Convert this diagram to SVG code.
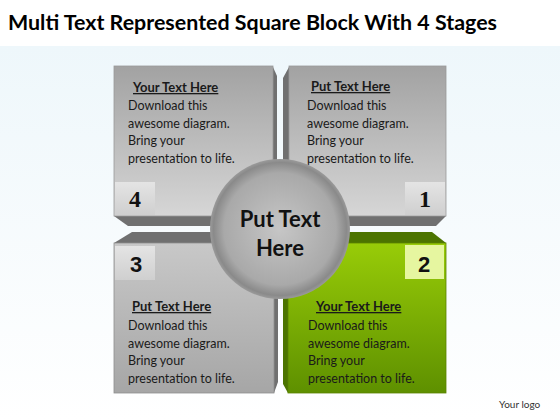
<svg xmlns="http://www.w3.org/2000/svg" width="560" height="420" viewBox="0 0 560 420">
<defs>
<style>
.title{font-family:Lato,"Open Sans",sans-serif;font-weight:700;font-size:20px;fill:#000}
.hd{font-family:Lato,"Open Sans",sans-serif;font-weight:700;font-size:13px;fill:#1a1a1a;text-decoration:underline}
.bd{font-family:Lato,"Open Sans",sans-serif;font-size:12.5px;fill:#1a1a1a}
.ctr{font-family:Lato,"Open Sans",sans-serif;font-weight:700;font-size:22px;fill:#111;text-anchor:middle}
.nser{font-family:"Liberation Serif",serif;font-weight:700;font-size:24px;fill:#111;text-anchor:middle}
.nsan{font-family:"Liberation Sans",sans-serif;font-weight:700;font-size:22px;fill:#111;text-anchor:middle}
.side{fill:#707070}
.gside{fill:#4c7400}
.logo{font-family:Lato,"Open Sans",sans-serif;font-size:10px;fill:#333}
</style>
<linearGradient id="bg" x1="0" y1="0" x2="0" y2="1">
<stop offset="0" stop-color="#eef7fb"/><stop offset="1" stop-color="#ffffff"/>
</linearGradient>
<linearGradient id="gray" x1="0" y1="0" x2="0" y2="1">
<stop offset="0" stop-color="#a2a2a2"/><stop offset="1" stop-color="#d6d6d6"/>
</linearGradient>
<linearGradient id="gray2" x1="0" y1="0" x2="0" y2="1">
<stop offset="0" stop-color="#c8c8c8"/><stop offset="1" stop-color="#a6a6a6"/>
</linearGradient>
<linearGradient id="green" x1="0" y1="0" x2="0" y2="1">
<stop offset="0" stop-color="#98cc08"/><stop offset="1" stop-color="#5e9000"/>
</linearGradient>
<linearGradient id="nbox" x1="0" y1="0" x2="0" y2="1">
<stop offset="0" stop-color="#e4e4e4"/><stop offset="1" stop-color="#cfcfcf"/>
</linearGradient>
<radialGradient id="ball" cx="0.5" cy="0.5" r="0.5">
<stop offset="0" stop-color="#c6c6c6"/><stop offset="0.8" stop-color="#a9a9a9"/><stop offset="0.95" stop-color="#8a8a8a"/><stop offset="1" stop-color="#9a9a9a"/>
</radialGradient>
</defs>
<rect x="0" y="0" width="560" height="420" fill="#fff"/>
<rect x="0" y="46" width="560" height="374" fill="url(#bg)"/>
<text class="title" x="8" y="30" textLength="489" lengthAdjust="spacingAndGlyphs">Multi Text Represented Square Block With 4 Stages</text>

<g id="stage4">
<polygon class="side" points="273,67 277,76 277,226 273,216"/>
<polygon class="side" points="114,216 128,226 277,226 273,216"/>
<rect x="114" y="66" width="159" height="150" fill="url(#gray)" stroke="#9a9a9a" stroke-width="0.8"/>
<rect x="115" y="182" width="40" height="33" fill="url(#nbox)"/>
<text class="nser" x="135" y="207">4</text>
<text class="hd" x="133" y="92">Your Text Here</text>
<text class="bd" x="128" y="110">Download this</text>
<text class="bd" x="128" y="127.5">awesome diagram.</text>
<text class="bd" x="128" y="145">Bring your</text>
<text class="bd" x="128" y="162.5">presentation to life.</text>
</g>

<g id="stage1">
<polygon class="side" points="289,67 283,78 283,226 289,216"/>
<polygon class="side" points="289,216 283,226 436,226 446,216"/>
<rect x="289" y="66" width="157" height="150" fill="url(#gray)" stroke="#9a9a9a" stroke-width="0.8"/>
<rect x="405" y="182" width="40" height="33" fill="url(#nbox)"/>
<text class="nser" x="425" y="207">1</text>
<text class="hd" x="311" y="91">Put Text Here</text>
<text class="bd" x="307" y="110">Download this</text>
<text class="bd" x="307" y="127.5">awesome diagram.</text>
<text class="bd" x="307" y="145">Bring your</text>
<text class="bd" x="307" y="162.5">presentation to life.</text>
</g>

<g id="stage3">
<polygon class="side" points="114,243 132,232 278,232 274,243"/>
<polygon class="side" points="274,243 278,232 278,382 274,393"/>
<rect x="114" y="243" width="160" height="150" fill="url(#gray2)" stroke="#8e8e8e" stroke-width="0.8"/>
<rect x="115" y="246" width="40" height="34" fill="url(#nbox)"/>
<text class="nsan" x="136" y="272">3</text>
<text class="hd" x="132" y="311">Put Text Here</text>
<text class="bd" x="128" y="330">Download this</text>
<text class="bd" x="128" y="347.5">awesome diagram.</text>
<text class="bd" x="128" y="365">Bring your</text>
<text class="bd" x="128" y="382.5">presentation to life.</text>
</g>

<g id="stage2">
<polygon class="gside" points="288,243 283,232 432,232 446,243"/>
<polygon class="gside" points="288,243 283,232 283,384 288,393"/>
<rect x="288" y="243" width="158" height="150" fill="url(#green)" stroke="#5a8200" stroke-width="0.8"/>
<rect x="405" y="245" width="39" height="34" fill="#e6f6a0"/>
<text class="nsan" x="424" y="272">2</text>
<text class="hd" x="316" y="311">Your Text Here</text>
<text class="bd" x="308" y="330">Download this</text>
<text class="bd" x="308" y="347.5">awesome diagram.</text>
<text class="bd" x="308" y="365">Bring your</text>
<text class="bd" x="308" y="382.5">presentation to life.</text>
</g>

<g id="connectors"></g>

<g id="center">
<circle cx="280" cy="229" r="70" fill="url(#ball)"/>
<text class="ctr" x="280" y="227">Put Text</text>
<text class="ctr" x="280" y="256">Here</text>
</g>

<text class="logo" x="499" y="408">Your logo</text>
</svg>
